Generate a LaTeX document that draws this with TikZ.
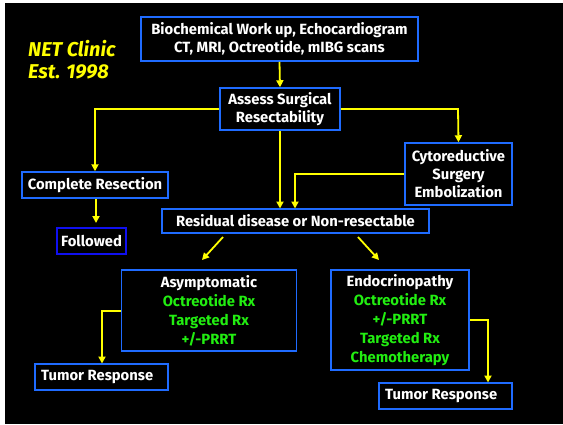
\documentclass[tikz,border=0pt]{standalone}
\usepackage{fontspec}
\setmainfont{Fira Sans}
\usetikzlibrary{arrows.meta}
\definecolor{bbox}{HTML}{1F6BFF}
\definecolor{dbox}{HTML}{1010F0}
\definecolor{yel}{HTML}{FFFF00}
\definecolor{grn}{HTML}{22EE11}
\tikzset{
  box/.style={draw=bbox, line width=1.5pt, fill=black, text=white, align=center,
    font=\bfseries\fontsize{14.8}{18}\selectfont, inner sep=0pt},
  conn/.style={draw=yel, line width=1.8pt, -{Triangle[length=7pt,width=7pt]}},
  btxt/.style={text=white, font=\bfseries\fontsize{14.8}{18}\selectfont, inner sep=0pt}
}
\begin{document}
\begin{tikzpicture}[x=1pt,y=-1pt]
\useasboundingbox (0,0) rectangle (563,424);
\fill[white] (0,0) rectangle (563,424);
\fill[black] (5,3) rectangle (563,424);

\node[text=yel, font=\bfseries\itshape\fontsize{20}{22}\selectfont, align=left, anchor=north west, inner sep=0pt] (clinic) at (28,40) {NET Clinic\\Est. 1998};

\node[box, minimum width=277pt, minimum height=44pt] (top) at (279.5,39) {Biochemical Work up, Echocardiogram\\CT, MRI, Octreotide, mIBG scans};
\node[box, minimum width=120pt, minimum height=42pt] (assess) at (280,109) {Assess Surgical\\Resectability};
\node[box, minimum width=107pt, minimum height=62pt] (cyto) at (458.5,174) {Cytoreductive\\Surgery\\Embolization};
\node[box, minimum width=146pt, minimum height=26pt] (complete) at (95,185) {Complete Resection};
\node[box, draw=dbox, minimum width=69pt, minimum height=26pt] (followed) at (91.5,241) {Followed};
\node[box, minimum width=267pt, minimum height=24pt] (residual) at (295.5,221) {Residual disease or Non-resectable};
\node[box, minimum width=175pt, minimum height=81pt, font=\bfseries\fontsize{14.8}{19}\selectfont] (asym) at (209,310.5) {Asymptomatic\\\textcolor{grn}{Octreotide Rx}\\\textcolor{grn}{Targeted Rx}\\\textcolor{grn}{+/-PRRT}};
\node[box, minimum width=138pt, minimum height=100pt, font=\bfseries\fontsize{14.8}{19}\selectfont] (endo) at (400,320) {Endocrinopathy\\\textcolor{grn}{Octreotide Rx}\\\textcolor{grn}{+/-PRRT}\\\textcolor{grn}{Targeted Rx}\\\textcolor{grn}{Chemotherapy}};
\node[box, minimum width=133pt, minimum height=26pt] (tumorL) at (101.5,377) {};
\node[btxt, anchor=west] (tumorLt) at (41,377) {Tumor Response};
\node[box, minimum width=133pt, minimum height=26pt] (tumorR) at (445.5,396) {};
\node[btxt, anchor=west] (tumorRt) at (385,396) {Tumor Response};

\coordinate (aL) at (95,109);
\coordinate (aR) at (458,109);
\coordinate (cL) at (295,174);
\coordinate (sL) at (102,311);
\coordinate (eR) at (488,320);

\draw[conn] (top.south) -- (assess.north);
\draw[conn] (assess.west) -- (aL) -- (complete.north);
\draw[conn] (assess.east) -- (aR) -- (cyto.north);
\draw[conn] (assess.south) -- (280,208.5);
\draw[conn] (cyto.west |- cL) -- (cL) -- (295,208.5);
\draw[conn] (96,199) -- (96,223);
\draw[conn] (223,237) -- (202,260);
\draw[conn] (358,237) -- (379,260);
\draw[conn] (asym.west |- sL) -- (sL) -- (102,363.5);
\draw[conn] (endo.east |- eR) -- (eR) -- (488,382.5);
\end{tikzpicture}
\end{document}
